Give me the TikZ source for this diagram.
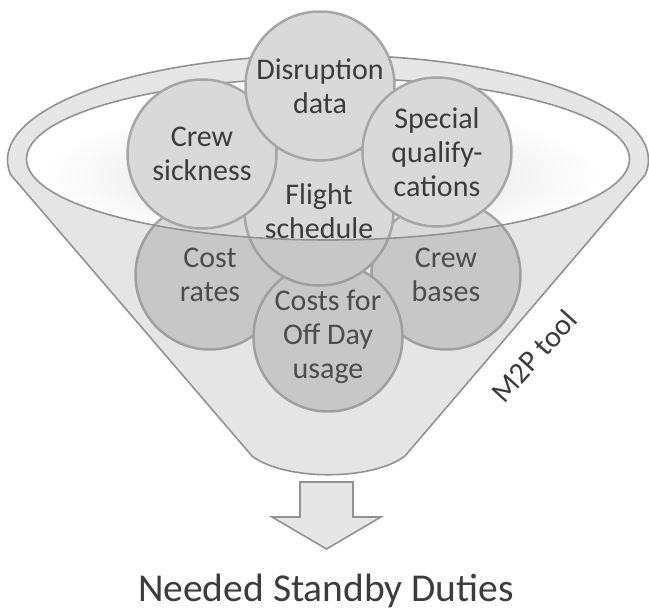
\documentclass[tikz,border=0pt]{standalone}
\usepackage{fontspec}
\setmainfont{Carlito}
\definecolor{funnel}{HTML}{E6E6E6}
\definecolor{fline}{HTML}{929292}
\definecolor{cfill}{HTML}{D9D9D9}
\definecolor{cline}{HTML}{A6A6A6}
\definecolor{txt}{HTML}{3C3C3C}
\definecolor{shadeov}{HTML}{888888}
\definecolor{softg}{HTML}{F3F3F3}
\pgfdeclareradialshading{softell}{\pgfpoint{0bp}{0bp}}{color(0bp)=(softg); color(17bp)=(softg); color(25bp)=(white); color(50bp)=(white)}
\begin{document}
\begin{tikzpicture}[x=1pt,y=-1pt,
  bub/.style={circle, draw=cline, fill=cfill, line width=2.5pt, minimum size=149pt,
    inner sep=0pt, align=center, text=txt, font=\fontsize{30}{34}\selectfont},
  rimline/.style={draw=fline, line width=1.6pt},
  lbl/.style={text=txt, inner sep=0pt}]
\useasboundingbox (0,0) rectangle (649,610);
\fill[white] (0,0) rectangle (649,610);
% back ring of the funnel
\fill[funnel] (7.5,160) arc[start angle=180,end angle=360,x radius=320.5,y radius=105]
  -- (629.5,159) arc[start angle=0,end angle=-180,x radius=301.5,y radius=81] -- cycle;
% opening
\fill[white] (328,159) ellipse[x radius=301.5,y radius=81];
\begin{scope}
  \clip (328,159) ellipse[x radius=301.5,y radius=81];
  \shade[shading=softell] (322,176) ellipse[x radius=280,y radius=74];
\end{scope}
% back strokes
\draw[rimline] (10.62,174.61) arc[start angle=172,end angle=368,x radius=320.5,y radius=105];
\draw[rimline] (26.5,159) arc[start angle=180,end angle=360,x radius=301.5,y radius=81];
% circles
\node[bub] (rates) at (210,275) {Cost\\rates};
\node[bub] (bases) at (446,275) {Crew\\bases};
\node[bub] (offday) at (328,337) {Costs for\\Off Day\\usage};
\node[bub] (flight) at (319,211) {Flight\\schedule};
\node[bub] (sick) at (202,154) {Crew\\sickness};
\node[bub] (disr) at (320,86) {Disruption\\data};
\node[bub] (qual) at (437,152) {Special\\qualify-\\cations};
% translucent front of the funnel
\fill[shadeov, fill opacity=0.21] (26.5,159) -- (7.5,160)
  arc[start angle=180,end angle=172,x radius=320.5,y radius=105]
  -- (252,456) .. controls (285,481) and (372,481) .. (405,456)
  -- (645.38,174.61) arc[start angle=8,end angle=0,x radius=320.5,y radius=105]
  -- (629.5,159) arc[start angle=0,end angle=180,x radius=301.5,y radius=81] -- cycle;
% front strokes
\draw[rimline] (10.62,174.61) -- (252,456) .. controls (285,481) and (372,481) .. (405,456) -- (645.38,174.61);
\draw[rimline] (629.5,159) arc[start angle=0,end angle=180,x radius=301.5,y radius=81];
% output arrow
\draw[rimline, fill=funnel] (300,482) -- (353,482) -- (353,517) -- (381,517) -- (326.5,549)
  -- (272,517) -- (300,517) -- cycle;
% labels
\node[lbl, font=\fontsize{30}{36}\selectfont, rotate=48] (tool) at (534,356) {M2P tool};
\node[lbl, font=\fontsize{39.5}{46}\selectfont, anchor=base] (result) at (326,601) {Needed Standby Duties};
\end{tikzpicture}
\end{document}
